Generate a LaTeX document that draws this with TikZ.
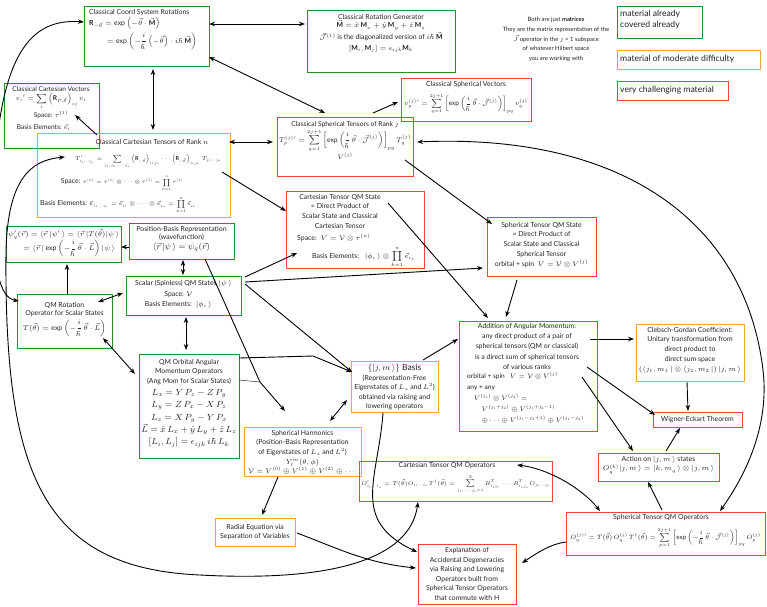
\RequirePackage{fix-cm}
\documentclass[tikz,border=0pt]{standalone}
\usepackage{amsmath,amssymb}
\usepackage{fontspec}
\setmainfont{Lato}
\usetikzlibrary{arrows.meta}
\definecolor{grn}{RGB}{34,150,34}
\definecolor{org}{RGB}{247,165,50}
\definecolor{rdd}{RGB}{240,70,45}
\definecolor{txc}{RGB}{35,35,35}
\newcommand{\mybox}[6]{\node[#2, anchor=north west, minimum width={(#5-#3)*1pt}, minimum height={(#6-#4)*1pt}] (#1) at (#3,#4) {};}
\tikzset{
  gb/.style={draw=grn, line width=1pt, inner sep=0pt},
  ob/.style={draw=org, line width=1pt, inner sep=0pt},
  rb/.style={draw=rdd, line width=1pt, inner sep=0pt},
  tx/.style={font=\fontsize{6.9}{9.6}\selectfont, text=txc, inner sep=0pt, align=center},
  lg/.style={font=\fontsize{8.6}{10.5}\selectfont, text=txc, inner sep=0pt, align=left, anchor=north west},
  con/.style={-{Stealth[length=6pt,width=4.5pt]}, line width=0.9pt},
  bi/.style={{Stealth[length=6pt,width=4.5pt]}-{Stealth[length=6pt,width=4.5pt]}, line width=0.9pt},
}
\begin{document}
\begin{tikzpicture}[x=1pt,y=-1pt]
\useasboundingbox (0,0) rectangle (767,606);
% ---------- boxes ----------
\mybox{coord}{gb}{84}{6}{209}{66}
\mybox{gen}{gb}{307}{10}{455}{72}
\mybox{leg1}{gb}{617}{6}{702}{38}
\mybox{leg2}{ob}{617}{50}{760}{69}
\mybox{leg3}{rb}{617}{81}{728}{100}
\mybox{cvec}{gb}{4}{83}{99}{148}
\mybox{ctens}{ob}{37}{133}{230}{217}
\mybox{svec}{rb}{401}{78}{531}{121}
\mybox{stens}{rb}{277}{117}{413}{176}
\mybox{ctqs}{rb}{286}{191}{424}{268}
\mybox{stqs}{rb}{487}{217}{596}{276}
\mybox{pos}{gb}{129}{223}{234}{259}
\mybox{psi}{gb}{6}{226}{121}{262}
\mybox{scal}{gb}{126}{276}{241}{315}
\mybox{qmrot}{gb}{17}{294}{112}{348}
\mybox{orb}{gb}{139}{354}{239}{458}
\mybox{basis}{ob}{351}{361}{438}{412}
\mybox{sh}{ob}{244}{427}{361}{476}
\mybox{add}{rb}{459}{321}{597}{431}
\mybox{cg}{ob}{636}{324}{744}{381}
\mybox{we}{rb}{653}{412}{742}{427}
\mybox{act}{rb}{598}{453}{719}{481}
\mybox{stqo}{rb}{566}{512}{765}{555}
\mybox{ctqo}{rb}{359}{461}{552}{501}
\mybox{rad}{ob}{215}{518}{295}{546}
\mybox{expl}{rb}{418}{544}{516}{604}
% ---------- texts ----------
\node[tx, align=left, anchor=north west, font=\fontsize{6.9}{8.6}\selectfont] (coordT) at (89,9) {Classical Coord System Rotations\\[1pt]
$\mathbf{R}_{-\vec\theta} = \exp\left(-\vec\theta\cdot\vec{\mathbf{M}}\right)$\\[2pt]
\hspace{2.6em}$= \exp\left(-\dfrac{i}{\hbar}\left(-\vec\theta\right)\cdot i\,\hbar\,\vec{\mathbf{M}}\right)$};
\node[tx, anchor=north, font=\fontsize{6.9}{8.6}\selectfont] (genT) at (381,14) {Classical Rotation Generator\\
$\vec{\mathbf{M}} = \hat x\,\mathbf{M}_x + \hat y\,\mathbf{M}_y + \hat z\,\mathbf{M}_z$\\[2pt]
$\vec{\mathcal{J}}^{(1)}$ is the diagonalized version of $i\,\hbar\,\vec{\mathbf{M}}$\\[2pt]
$[\mathbf{M}_i, \mathbf{M}_j] = \epsilon_{ijk}\mathbf{M}_k$};
\node[tx, font=\fontsize{5.9}{9.8}\selectfont, anchor=north] (noteT) at (556,17) {Both are just \textbf{matrices}\\
They are the matrix representation of the\\
$\vec J$ operator in the $j$ = 1 subspace\\
of whatever Hilbert space\\
you are working with};
\node[lg] (leg1T) at (620,10) {material already\\covered already};
\node[lg] (leg2T) at (620,55) {material of moderate difficulty};
\node[lg] (leg3T) at (620,86) {very challenging material};
\node[tx, font=\fontsize{6.6}{8.6}\selectfont, anchor=north] (cvecT) at (51,86) {Classical Cartesian Vectors\\[1pt]
$v_i{}' = \displaystyle\sum_i \left(\mathbf{R}_{P,\vec\theta}\right)_{ij} v_i$\\[1pt]
Space: $\tau^{(1)}$\\[3pt]
\hspace*{-2.2em}Basis Elements: $\vec e_i$};
\node[tx] (ctensT) at (152,142) {Classical Cartesian Tensors of Rank $n$};
\node[tx, anchor=west, font=\fontsize{5.4}{7}\selectfont] (ctensE) at (75,161) {$T'_{i_1\cdots i_n} = \displaystyle\sum_{j_1,j_2,\cdots,j_n} \left(\mathbf{R}_{-\vec\theta}\right)_{i_1 j_1}\cdots\left(\mathbf{R}_{-\vec\theta}\right)_{i_n j_n} T_{j_1\cdots j_n}$};
\node[tx] (ctensS) at (122,183) {Space: {\fontsize{5.1}{7}\selectfont$\tau^{(n)} = \tau^{(1)}\otimes\cdots\otimes\tau^{(1)} = \displaystyle\prod_{k=1}^{n} \tau^{(1)}$}};
\node[tx, anchor=west] (ctensB) at (40,205) {Basis Elements: {\fontsize{5.5}{7}\selectfont$\mathcal{E}_{i_1\cdots i_n} = \vec e_{i_1}\otimes\cdots\otimes\vec e_{i_n} = \displaystyle\prod_{k=1}^{n}\vec e_{i_k}$}};
\node[tx] (svecT) at (466,85) {Classical Spherical Vectors};
\node[tx, font=\fontsize{6.4}{8}\selectfont] (svecE) at (466,104) {$v_p^{(j)}{}' = \displaystyle\sum_{q=1}^{2j+1}\left[\exp\left(\dfrac{i}{\hbar}\,\vec\theta\cdot\vec{\mathcal{J}}^{(j)}\right)\right]_{pq} v_q^{(j)}$};
\node[tx, anchor=north, font=\fontsize{6.7}{8.6}\selectfont] (stensT) at (345,121) {Classical Spherical Tensors of Rank $j$\\[1pt]
$T_p^{(j)}{}' = \displaystyle\sum_{q=1}^{2j+1}\left[\exp\left(\dfrac{i}{\hbar}\,\vec\theta\cdot\vec{\mathcal{J}}^{(j)}\right)\right]_{pq} T_q^{(j)}$\\
$V^{(j)}$};
\node[tx, anchor=north] (ctqsT) at (340,194) {Cartesian Tensor QM State\\
= Direct Product of\\
Scalar State and Classical\\
Cartesian Tensor};
\node[tx, anchor=west] (ctqsS) at (297,238) {Space: \ $V = \mathcal{V}\otimes\tau^{(n)}$};
\node[tx, anchor=west] (ctqsB) at (312,257) {Basis Elements: \ \ $|\phi_i\,\rangle\otimes\displaystyle\prod_{k=1}^{n}\vec e_{i_k}$};
\node[tx, anchor=north] (stqsT) at (541.5,222) {Spherical Tensor QM State\\
= Direct Product of\\
Scalar State and Classical\\
Spherical Tensor\\[1pt]
orbital + spin \ $V = \mathcal{V}\otimes V^{(j)}$};
\node[tx, anchor=north, font=\fontsize{6.9}{8.6}\selectfont] (posT) at (181.5,226) {Position-Basis Representation\\
(wavefunction)\\[1pt]
{\fontsize{8.5}{10}\selectfont$\langle\vec r\,|\psi\,\rangle = \psi_q(\vec r)$}};
\node[tx, align=left, anchor=north west, font=\fontsize{6.9}{8.6}\selectfont] (psiT) at (8,229) {$\psi_q'(\vec r) = \langle\vec r\,|\psi'\,\rangle = \langle\vec r\,|T(\vec\theta)|\psi\,\rangle$\\
\hspace{2.2em}$= \langle\vec r\,|\exp\left(-\dfrac{i}{\hbar}\,\vec\theta\cdot\vec L\right)|\psi\,\rangle$};
\node[tx, anchor=north, font=\fontsize{6.9}{8.6}\selectfont] (scalT) at (183.5,280) {Scalar (Spinless) QM States $|\psi\,\rangle$\\[2pt]
\hspace*{-1.5em}Space: $\mathcal{V}$\\[2pt]
\hspace*{-1.5em}Basis Elements: \ $|\phi_i\,\rangle$};
\node[tx, anchor=north, font=\fontsize{6.9}{8.6}\selectfont] (qmrotT) at (64.5,302) {QM Rotation\\
Operator for Scalar States\\[2pt]
$T(\vec\theta) = \exp\left(-\dfrac{i}{\hbar}\,\vec\theta\cdot\vec L\right)$};
\node[tx, anchor=north] (orbT) at (189,359) {QM Orbital Angular\\
Momentum Operators\\
(Ang Mom for Scalar States)};
\node[tx, anchor=north, font=\fontsize{8.9}{12.4}\selectfont] (orbE) at (189,389) {$L_x = Y\,P_z - Z\,P_y$\\
$L_y = Z\,P_x - X\,P_z$\\
$L_z = X\,P_y - Y\,P_x$\\
$\vec L = \hat x\,L_x + \hat y\,L_y + \hat z\,L_z$\\
$[L_i, L_j] = \epsilon_{ijk}\,i\,\hbar\,L_k$};
\node[tx, anchor=north] (basisT) at (394.5,364) {{\fontsize{8.5}{10}\selectfont $\{|j,m\,\rangle\}$ Basis}\\
(Representation-Free\\
Eigenstates of $L_z$ and $L^2$)\\
obtained via raising and\\
lowering operators};
\node[tx, anchor=north] (shT) at (302.5,430) {Spherical Harmonics\\
(Position-Basis Representation\\
of Eigenstates of $L_z$ and $L^2$)\\
$Y_l^m(\theta,\phi)$\\
$\mathcal{V} = V^{(0)}\oplus V^{(1)}\oplus V^{(2)}\oplus\cdots$};
\node[tx, anchor=north, font=\fontsize{6.9}{10.3}\selectfont] (addT) at (527,323) {Addition of Angular Momentum:\\
any direct product of a pair of\\
spherical tensors (QM or classical)\\
is a direct sum of spherical tensors\\
of various ranks};
\node[tx, align=left, anchor=north west, font=\fontsize{6.6}{11}\selectfont] (addT2) at (467,372) {orbital + spin \ \ $V = \mathcal{V}\otimes V^{(j)}$\\
any + any\\
\hspace{1.0em}$V^{(j_1)}\otimes V^{(j_2)} =$\\
\hspace{2.2em}$V^{(j_1+j_2)}\oplus V^{(j_1+j_2-1)}$\\
\hspace{2.2em}$\oplus\cdots\oplus V^{(j_1-j_2+1)}\oplus V^{(j_1-j_2)}$};
\node[tx, anchor=north] (cgT) at (690,327) {Clebsch-Gordan Coefficient:\\
Unitary transformation from\\
direct product to\\
direct sum space\\[1pt]
$(\langle j_1,m_1\,|\otimes\langle j_2,m_2\,|)\,|j,m\,\rangle$};
\node[tx] (weT) at (697.5,419.5) {Wigner-Eckart Theorem};
\node[tx, anchor=north, font=\fontsize{6.9}{8.6}\selectfont] (actT) at (658.5,456) {Action on $|j,m\,\rangle$ states\\[1pt]
$O_q^{(k)}|j,m\,\rangle = |k,m_q\,\rangle\otimes|j,m\,\rangle$};
\node[tx] (stqoT) at (661,518) {Spherical Tensor QM Operators};
\node[tx, font=\fontsize{6.2}{8}\selectfont] (stqoE) at (665.5,538) {$O_q^{(j)}{}' = T(\vec\theta)\,O_q^{(j)}\,T^\dagger(\vec\theta) = \displaystyle\sum_{p=1}^{2j+1}\left[\exp\left(-\dfrac{i}{\hbar}\,\vec\theta\cdot\vec{\mathcal{J}}^{(j)}\right)\right]_{pq} O_p^{(j)}$};
\node[tx] (ctqoT) at (447,466) {Cartesian Tensor QM Operators};
\node[tx, font=\fontsize{5.5}{8}\selectfont] (ctqoE) at (456,484) {$O'_{i_1\cdots i_n} = T(\vec\theta)O_{i_1\cdots i_n}T^\dagger(\vec\theta) = \displaystyle\sum_{j_1,\cdots,j_n=1}^{N} R^T_{i_1j_1}\cdots R^T_{i_nj_n}O_{j_1\cdots j_n}$};
\node[tx] (radT) at (255,532) {Radial Equation via\\Separation of Variables};
\node[tx] (explT) at (467,574) {Explanation of\\Accidental Degeneracies\\via Raising and Lowering\\Operators built from\\Spherical Tensor Operators\\that commute with H};
% ---------- connectors ----------
\draw[bi] ([shift={(125,18)}]coord.north west) -- ([shift={(-2,14)}]gen.north west);
\draw[bi] ([shift={(125,51)}]coord.north west) -- ([shift={(48,-4)}]stens.north west);
\draw[con] ([shift={(96,-4)}]stens.north west) -- ([shift={(-3,24)}]svec.north west);
\draw[bi] ([shift={(69,63)}]coord.north west) -- ([shift={(116,-3)}]ctens.north west);
\draw[con] ([shift={(60,2)}]ctens.north west) -- ([shift={(71,32)}]cvec.north west);
\draw[bi] ([shift={(192,9)}]ctens.north west) -- ([shift={(-4,25)}]stens.north west);
\draw[con] ([shift={(185,39)}]ctens.north west) -- ([shift={(0,20)}]ctqs.north west);
\draw[con] ([shift={(128,43)}]stens.north west) -- ([shift={(5,7)}]stqs.north west);
\draw[con] ([shift={(102,12)}]ctqs.north west) -- ([shift={(29,-3)}]add.north west);
\draw[con] ([shift={(30,63)}]stqs.north west) -- ([shift={(47,-4)}]add.north west);
\draw[con] ([shift={(119,1)}]scal.north west) -- ([shift={(11,62)}]ctqs.north west);
\draw[con] ([shift={(119,6)}]scal.north west) -- ([shift={(-4,51)}]stqs.north west);
\draw[con] ([shift={(119,8)}]scal.north west) -- ([shift={(1,11)}]basis.north west);
\draw[con] ([shift={(100,4)}]orb.north west) -- (313,356) -- ([shift={(1,11)}]basis.north west);
\draw[con] ([shift={(76,36)}]pos.north west) -- (260,382) -- ([shift={(41,-16)}]sh.north west);
\draw ([shift={(100,26)}]orb.north west) -- (260,382);
\draw[bi] ([shift={(54,37)}]pos.north west) -- ([shift={(57,-1)}]scal.north west);
\draw[con] ([shift={(0,24)}]pos.north west) -- ([shift={(115,21)}]psi.north west);
\draw[con] ([shift={(50,0)}]qmrot.north west) -- ([shift={(61,38)}]psi.north west);
\draw[bi] ([shift={(81,8)}]qmrot.north west) -- ([shift={(-3,17)}]scal.north west);
\draw[bi] ([shift={(86,44)}]qmrot.north west) -- ([shift={(-4,20)}]orb.north west);
\draw[bi] ([shift={(60,41)}]scal.north west) -- ([shift={(47,-4)}]orb.north west);
\draw[bi] ([shift={(86,-6)}]sh.north west) -- ([shift={(-4,39)}]basis.north west);
\draw[con] ([shift={(72,-1)}]basis.north west) -- ([shift={(-1,18)}]add.north west);
\draw[con] ([shift={(34,50)}]sh.north west) -- ([shift={(47,-3)}]rad.north west);
\draw[con] ([shift={(82,15)}]rad.north west) .. controls +(40,15) and +(-50,-5) .. ([shift={(-2,24)}]expl.north west);
\draw[con] ([shift={(32,52)}]basis.north west) .. controls +(-5,67) and +(-67,-32) .. ([shift={(-1,8)}]expl.north west);
\draw[bi] ([shift={(28,24)}]ctens.north west) .. controls (30,160) and (8,180) .. (6,250) .. controls (4,470) and (40,568) .. (200,575) .. controls (330,582) and (410,560) .. ([shift={(59,41)}]ctqo.north west);
\draw[bi] ([shift={(0,16)}]coord.north west) .. controls (30,18) and (0,55) .. (-6,180) .. controls (-9,270) and (0,298) .. ([shift={(2,7)}]qmrot.north west);
\draw[bi] ([shift={(158,4)}]ctqo.north west) .. controls +(28,3) and +(-20,-25) .. ([shift={(34,-1)}]stqo.north west);
\draw[con] ([shift={(0,30)}]stqo.north west) .. controls +(-16,2) and +(15,-10) .. ([shift={(104,19)}]expl.north west);
\draw[con] ([shift={(96,-2)}]stqo.north west) -- ([shift={(50,29)}]act.north west);
\draw[con] ([shift={(68,-2)}]act.north west) -- ([shift={(27,16)}]we.north west);
\draw[con] ([shift={(123,56)}]add.north west) -- ([shift={(35,-2)}]act.north west);
\draw[con] ([shift={(128,46)}]add.north west) -- ([shift={(2,3)}]we.north west);
\draw[con] ([shift={(131,18)}]add.north west) -- ([shift={(-2,15)}]cg.north west);
\draw[con] ([shift={(51,58)}]cg.north west) -- ([shift={(35,-1)}]we.north west);
\draw[bi] ([shift={(140,25)}]stens.north west) .. controls (620,133) and (745,220) .. (763,370) .. controls (770,430) and (742,480) .. ([shift={(154,-1)}]stqo.north west);
\end{tikzpicture}
\end{document}
